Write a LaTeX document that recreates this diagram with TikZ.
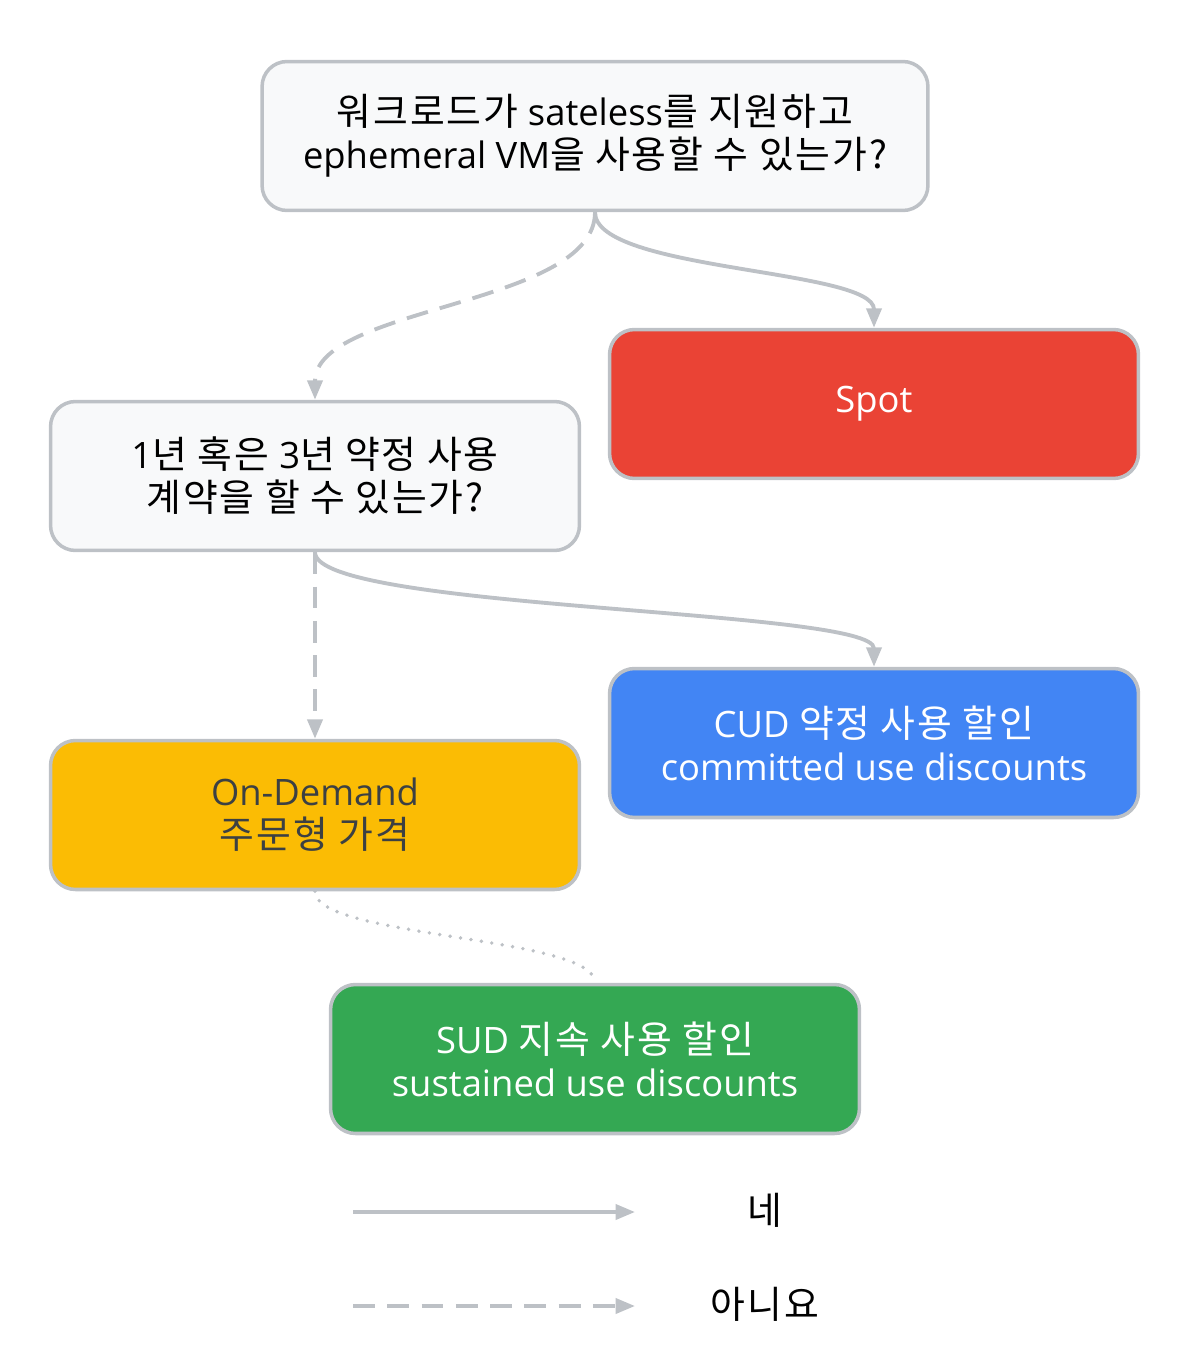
\documentclass[tikz,border=0pt]{standalone}
\usepackage{fontspec}
\setmainfont{Open Sans}
\newfontfamily\krfont[Scale=1.04, LetterSpace=5]{Noto Sans CJK KR}
\newcommand{\kr}[1]{{\krfont #1}}
\usetikzlibrary{arrows.meta, calc}
\definecolor{linegray}{HTML}{BDC1C6}
\definecolor{paleface}{HTML}{F8F9FA}
\definecolor{gred}{HTML}{EA4335}
\definecolor{gblue}{HTML}{4285F4}
\definecolor{gyellow}{HTML}{FBBC04}
\definecolor{ggreen}{HTML}{34A853}
\definecolor{darktext}{HTML}{3C4043}

\begin{document}
\begin{tikzpicture}[x=0.02cm,y=-0.02cm,>={Triangle[length=11pt,width=8.5pt]},
    box/.style={rectangle, rounded corners=0.5cm, draw=linegray, line width=2pt,
        minimum width=10.58cm, minimum height=2.98cm, align=center,
        font=\fontsize{20.7}{24.5}\selectfont},
    question/.style={box, fill=paleface, text=black},
    yes/.style={->, draw=linegray, line width=2.2pt},
    no/.style={yes, dash pattern=on 12.5pt off 7pt},
    later/.style={draw=linegray, line width=2.2pt, line cap=round, dash pattern=on 0pt off 6pt}]
                \useasboundingbox (0,0) rectangle (1194,1368);
                \node[question, minimum width=13.32cm] (stateless) at (595,136)
                    {\kr{워크로드가} sateless\kr{를 지원하고}\\ephemeral VM\kr{을 사용할 수 있는가?}};
                \node[question] (commit) at (315,476)
                    {1\kr{년 혹은 }3\kr{년 약정 사용}\\\kr{계약을 할 수 있는가?}};
                \node[box, fill=gred, text=white] (spot) at (874,404) {Spot};
                \node[box, fill=gblue, text=white] (cud) at (874,743)
                    {CUD \kr{약정 사용 할인}\\committed use discounts};
                \node[box, fill=gyellow, text=darktext] (ondemand) at (315,815)
                    {On-Demand\\\kr{주문형 가격}};
                \node[box, fill=ggreen, text=white] (sud) at (595,1059)
                    {SUD \kr{지속 사용 할인}\\sustained use discounts};
                % legend
                \coordinate (yesstart) at (353,1212);
                \coordinate (yesend) at (635,1212);
                \coordinate (nostart) at (353,1306);
                \coordinate (noend) at (635,1306);
                \node[font=\fontsize{20.7}{24.5}\selectfont] (yeslabel) at (765,1210) {\kr{네}};
                \node[font=\fontsize{20.7}{24.5}\selectfont] (nolabel) at (765,1304) {\kr{아니요}};
                \draw[yes] (stateless.south) .. controls ($(stateless.south)+(0,59)$) and ($(spot.north)+(0,-59)$) .. (spot.north);
                \draw[no] (stateless.south) .. controls ($(stateless.south)+(0,94)$) and ($(commit.north)+(0,-94)$) .. (commit.north);
                \draw[yes] (commit.south) .. controls ($(commit.south)+(0,58)$) and ($(cud.north)+(0,-58)$) .. (cud.north);
                \draw[no] (commit.south) -- (ondemand.north);
                \draw[later] (ondemand.south) .. controls ($(ondemand.south)+(0,47)$) and ($(sud.north)+(0,-47)$) .. (sud.north);
                \draw[yes] (yesstart) -- (yesend);
                \draw[no] (nostart) -- (noend);
\end{tikzpicture}
\end{document}
